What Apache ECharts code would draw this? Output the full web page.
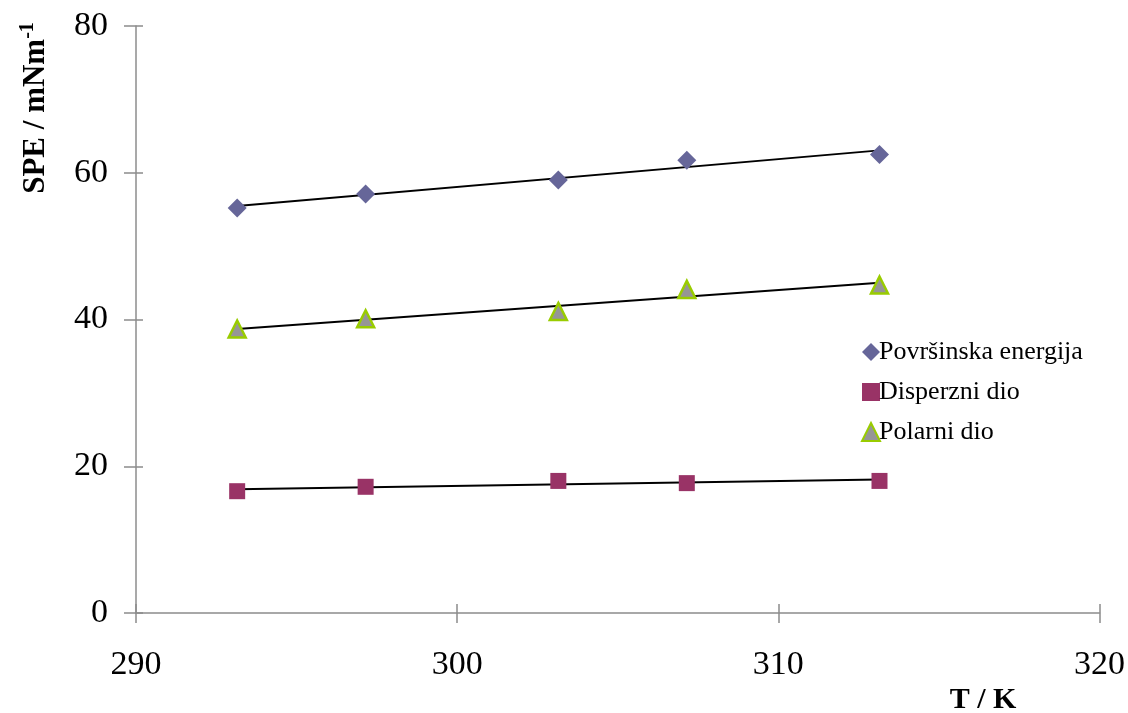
<!DOCTYPE html>
<html><head><meta charset="utf-8">
<script src="https://cdn.jsdelivr.net/npm/echarts@6/dist/echarts.min.js"></script>
<style>html,body{margin:0;padding:0;background:#fff}#c{width:1128px;height:713px}</style>
</head><body><div id="c"></div>
<script>
const temperatures = [293.15, 297.15, 303.15, 307.15, 313.15];
const surfaceEnergy = [55.2, 57.1, 59.0, 61.7, 62.5];
const dispersePart = [16.6, 17.2, 18.0, 17.7, 18.0];
const polarPart = [38.7, 40.1, 41.1, 44.1, 44.7];
const seriesNames = ['Površinska energija', 'Disperzni dio', 'Polarni dio'];

function pairs(xs, ys) { return xs.map((x, i) => [x, ys[i]]); }
function trend(xs, ys) {
  const n = xs.length;
  const mx = xs.reduce((a, b) => a + b, 0) / n;
  const my = ys.reduce((a, b) => a + b, 0) / n;
  let sxy = 0, sxx = 0;
  for (let i = 0; i < n; i++) { sxy += (xs[i] - mx) * (ys[i] - my); sxx += (xs[i] - mx) ** 2; }
  const b = sxy / sxx, a = my - b * mx;
  const x0 = Math.min(...xs), x1 = Math.max(...xs);
  return [[x0, a + b * x0], [x1, a + b * x1]];
}

const font = 'Liberation Serif, Times New Roman, serif';
const axisGray = '#8c8c8c';
const chart = echarts.init(document.getElementById('c'));

const trendStyle = { type: 'line', symbol: 'none', lineStyle: { color: '#000', width: 2 }, silent: true, z: 3 };

chart.setOption({
  animation: false,
  textStyle: { fontFamily: font },
  grid: { left: 136, right: 28, top: 26, bottom: 100 },
  xAxis: [{
    type: 'value', min: 290, max: 320, interval: 10,
    axisLine: { lineStyle: { color: axisGray, width: 1.5 } },
    axisTick: { show: true, length: 10, lineStyle: { color: axisGray, width: 1.5 } },
    axisLabel: { color: '#000', fontSize: 34, fontFamily: font, margin: 35 },
    splitLine: { show: false }
  }, {
    type: 'value', min: 290, max: 320, interval: 10, position: 'bottom',
    axisLine: { show: false },
    axisTick: { show: true, inside: true, length: 9, lineStyle: { color: axisGray, width: 1.5 } },
    axisLabel: { show: false }, splitLine: { show: false }
  }],
  yAxis: [{
    type: 'value', min: 0, max: 80, interval: 20,
    axisLine: { show: true, lineStyle: { color: axisGray, width: 1.5 } },
    axisTick: { show: true, length: 12, lineStyle: { color: axisGray, width: 1.5 } },
    axisLabel: { color: '#000', fontSize: 34, fontFamily: font, margin: 28 },
    splitLine: { show: false }
  }, {
    type: 'value', min: 0, max: 80, interval: 20, position: 'left',
    axisLine: { show: false },
    axisTick: { show: true, inside: true, length: 7, lineStyle: { color: axisGray, width: 1.5 } },
    axisLabel: { show: false }, splitLine: { show: false }
  }],
  legend: {
    orient: 'vertical', left: 856, top: 334, itemGap: 14,
    itemWidth: 18, itemHeight: 18,
    data: seriesNames,
    textStyle: { fontSize: 26, fontFamily: font, color: '#000', padding: [0, 0, 0, -6] }
  },
  series: [
    Object.assign({ data: trend(temperatures, surfaceEnergy) }, trendStyle),
    Object.assign({ data: trend(temperatures, dispersePart) }, trendStyle),
    Object.assign({ data: trend(temperatures, polarPart) }, trendStyle),
    {
      name: seriesNames[0], type: 'scatter', symbol: 'diamond', symbolSize: 19, z: 4,
      itemStyle: { color: '#666699', opacity: 1 }, data: pairs(temperatures, surfaceEnergy)
    },
    {
      name: seriesNames[1], type: 'scatter', symbol: 'rect', symbolSize: 16, z: 4,
      itemStyle: { color: '#993366', opacity: 1 }, data: pairs(temperatures, dispersePart)
    },
    {
      name: seriesNames[2], type: 'scatter', symbol: 'triangle', symbolSize: 17, z: 4,
      itemStyle: { color: '#969696', borderColor: '#99CC00', borderWidth: 2.5, opacity: 1 }, data: pairs(temperatures, polarPart)
    }
  ],
  graphic: [{
    type: 'text', x: 36, y: 108, rotation: Math.PI / 2,
    style: {
      text: '{m|SPE / mNm}{s|-1}', align: 'center', verticalAlign: 'middle',
      rich: {
        m: { fontSize: 31, fontWeight: 'bold', fontFamily: font, fill: '#000' },
        s: { fontSize: 20, fontWeight: 'bold', fontFamily: font, fill: '#000', padding: [0, 0, 16, 0] }
      }
    }
  }, {
    type: 'text', x: 983, y: 700,
    style: { text: 'T / K', align: 'center', verticalAlign: 'middle', fontSize: 30, fontWeight: 'bold', fontFamily: font, fill: '#000' }
  }]
});
</script></body></html>
